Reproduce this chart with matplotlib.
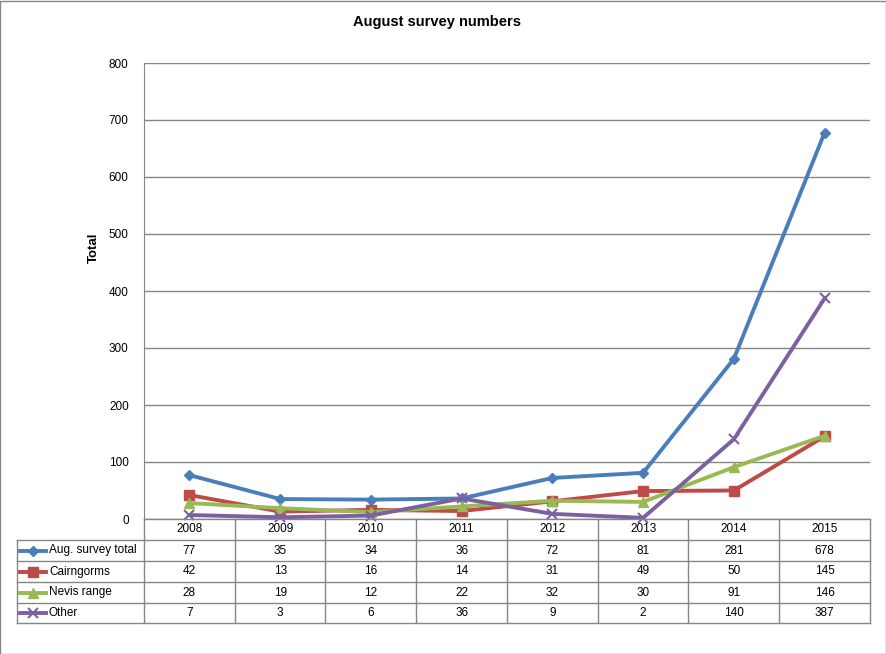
import matplotlib.pyplot as plt
from matplotlib.lines import Line2D
from matplotlib.patches import Rectangle

years = ['2008', '2009', '2010', '2011', '2012', '2013', '2014', '2015']
series_names = ['Aug. survey total', 'Cairngorms', 'Nevis range', 'Other']
aug_total = [77, 35, 34, 36, 72, 81, 281, 678]
cairngorms = [42, 13, 16, 14, 31, 49, 50, 145]
nevis = [28, 19, 12, 22, 32, 30, 91, 146]
other = [7, 3, 6, 36, 9, 2, 140, 387]

colors = ['#4A7EBB', '#BE4B48', '#98B954', '#7D60A0']
markers = ['D', 's', '^', 'x']
msizes = [5, 7, 7, 7]
values = [aug_total, cairngorms, nevis, other]

W, H = 887, 654
fig = plt.figure(figsize=(W / 100, H / 100), dpi=100)
plt.rcParams['font.family'] = ['Liberation Sans', 'DejaVu Sans']
grey = '#868686'

# outer frame
fig.add_artist(Rectangle((0.5 / W, 0.5 / H), (W - 1.5) / W, (H - 1.5) / H,
                         transform=fig.transFigure, fill=False, ec=grey, lw=1))

# plot area, pixel box 144..870 x 63..519
left, right, top, bot = 144, 870, 63, 519
ax = fig.add_axes([left / W, 1 - bot / H, (right - left) / W, (bot - top) / H])
x = list(range(len(years)))
for vals, c, m, ms in zip(values, colors, markers, msizes):
    ax.plot(x, vals, color=c, lw=2.8, marker=m, ms=ms, mew=1.5 if m == 'x' else 1,
            mec=c, mfc=c, zorder=3, clip_on=False)
ax.set_xlim(-0.5, len(years) - 0.5)
ax.set_ylim(0, 800)
ax.set_yticks(range(0, 801, 100))
ax.yaxis.grid(True, color=grey, lw=1)
ax.set_axisbelow(True)
ax.set_xticks([])
for s in ['top', 'right', 'bottom']:
    ax.spines[s].set_visible(False)
ax.spines['left'].set_color(grey)
ax.tick_params(axis='y', length=0, pad=11, labelsize=8.5)
ax.set_ylabel('Total', fontsize=9.5, fontweight='bold')
ax.yaxis.set_label_coords(-44 / (right - left), (bot - 248) / (bot - top))
fig.text(437 / W, 1 - 22 / H, 'August survey numbers', ha='center', va='center',
         fontsize=10.5, fontweight='bold')

# data table below the plot
tab = fig.add_axes([0, 0, 1, 1])
tab.set_xlim(0, W)
tab.set_ylim(H, 0)
tab.axis('off')
col_w = (right - left) / len(years)
row_y = [519, 540, 561, 582, 603, 623]
lk = dict(color=grey, lw=1)
for i in range(len(years) + 1):
    xx = left + i * col_w
    tab.add_line(Line2D([xx, xx], [row_y[0], row_y[-1]], **lk))
for j, yy in enumerate(row_y):
    x0 = left if j == 0 else 17
    tab.add_line(Line2D([x0, right], [yy, yy], **lk))
tab.add_line(Line2D([17, 17], [row_y[1], row_y[-1]], **lk))
for i, yr in enumerate(years):
    tab.text(left + (i + 0.5) * col_w, (row_y[0] + row_y[1]) / 2, yr,
             ha='center', va='center', fontsize=8.5)
for r, (name, vals, c, m, ms) in enumerate(zip(series_names, values, colors, markers, msizes)):
    yc = (row_y[r + 1] + row_y[r + 2]) / 2
    tab.add_line(Line2D([20, 46], [yc, yc], color=c, lw=2.8))
    tab.add_line(Line2D([33], [yc], color=c, marker=m, ms=ms, mec=c, mfc=c,
                        mew=1.5 if m == 'x' else 1))
    tab.text(49, yc, name, ha='left', va='center', fontsize=8.5)
    for i, v in enumerate(vals):
        tab.text(left + (i + 0.5) * col_w, yc, str(v), ha='center', va='center', fontsize=8.5)

fig.savefig('out.png', dpi=100)
